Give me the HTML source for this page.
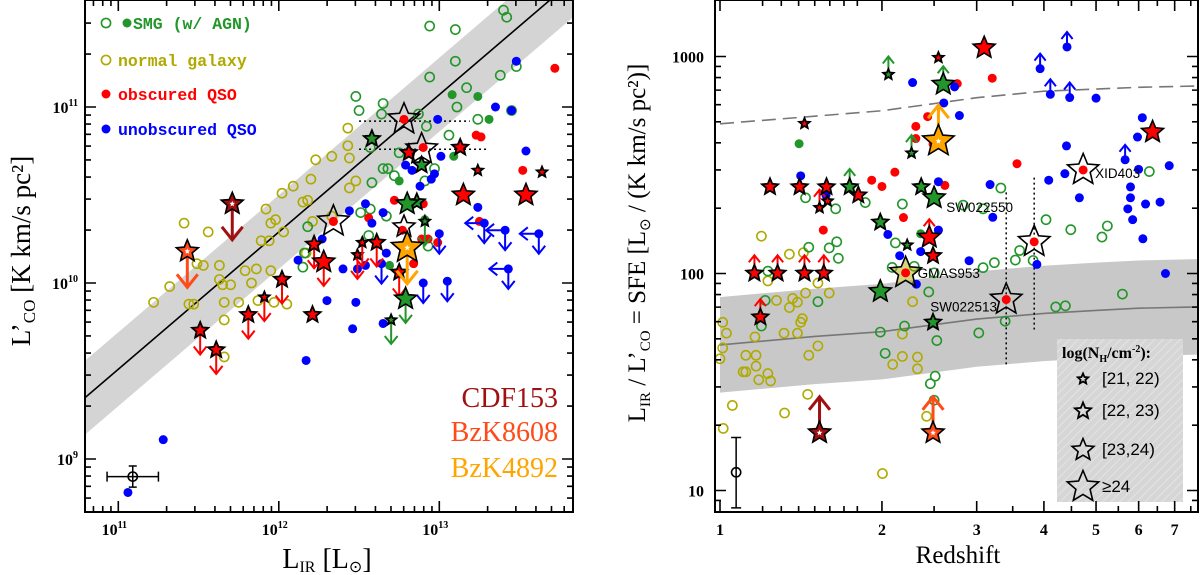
<!DOCTYPE html>
<html><head><meta charset="utf-8"><style>
html,body{margin:0;padding:0;background:#fff;}
svg{display:block;}
text{font-family:"Liberation Serif",serif;}
text.sans{font-family:"Liberation Sans",sans-serif;}
.mono{font-family:"Liberation Mono",monospace;font-weight:bold;}
.tk{font-size:16px;font-weight:bold;}
</style></head><body>
<svg id="fig" width="1200" height="575" viewBox="0 0 1200 575" xmlns="http://www.w3.org/2000/svg">
<defs>
<clipPath id="clipL"><rect x="85" y="0" width="488" height="512"/></clipPath>
<clipPath id="clipR"><rect x="715" y="0" width="483" height="512"/></clipPath>
<pattern id="hatch" width="6" height="6" patternUnits="userSpaceOnUse" patternTransform="rotate(45)"><rect width="6" height="6" fill="#d6d6d6"/><line x1="0" y1="0" x2="0" y2="6" stroke="#e4e4e4" stroke-width="2"/></pattern>
</defs>
<g id="left"></g>
<g id="right"></g>
</svg>
<script>
// ---------------- LEFT PANEL DATA (log10 values) ----------------
const normLogLIR = [11.22,11.32,11.41,11.56,11.44,11.47,11.49,11.53,11.63,11.63,11.65,11.66,11.66,11.66,11.70,11.75,11.79,11.83,11.86,11.92,11.95,11.98,11.94,11.89,11.95,12.02,12.09,12.15,12.18,12.20,12.23,12.33,12.43,12.43,12.44,12.48,12.44,12.03,12.05,11.97,11.87,12.21,12.17,12.33];
const normLogLCO = [9.89,9.98,10.34,10.29,9.88,9.88,10.11,10.10,10.10,10.02,9.99,9.89,9.79,9.58,9.99,9.89,10.07,10.00,10.08,10.42,10.34,10.36,10.24,10.24,10.07,10.51,10.55,10.46,10.47,10.59,10.70,10.72,10.88,10.78,10.71,10.58,10.54,10.29,9.88,9.89,9.90,10.35,10.17,10.38];
const smgLogLIR = [12.48,12.50,12.65,12.64,12.57,12.65,12.68,12.58,12.72,12.75,12.94,12.94,13.10,13.10,13.17,13.11,13.06,13.24,13.38,13.40,13.42,13.48,13.45,12.87,12.92,12.97,12.91,12.93,12.51,12.57,12.56,12.18,12.16,12.15,12.67];
const smgLogLCO = [11.06,10.98,11.02,10.96,10.77,10.65,10.65,10.57,10.61,10.74,11.17,11.46,11.44,11.26,11.11,11.00,10.84,10.93,11.18,11.55,11.51,11.23,10.98,10.96,10.89,10.65,10.58,10.21,10.40,10.42,10.27,10.32,10.17,10.09,10.38];
const smgAgnLogLIR = [13.08,13.24,13.31,13.09,12.75,12.69,12.91];
const smgAgnLogLCO = [11.07,11.06,10.93,10.72,10.58,10.10,10.36];
const obsLogLIR = [13.72,13.52,13.23,13.26,13.25,12.90,12.89,12.93,12.99,12.72,12.56,12.77,12.84,12.34,12.90];
const obsLogLCO = [11.22,10.64,10.84,10.83,10.35,10.45,10.25,10.25,10.23,10.47,10.37,10.30,10.11,10.35,10.77];
const unobsLogLIR = [11.06,11.28,12.17,12.12,12.27,12.30,12.40,12.44,12.48,12.46,12.49,12.54,12.54,12.58,12.65,12.65,12.67,12.79,12.88,12.95,12.97,12.99,13.01,13.35,13.45,13.48,13.54,13.24,12.83];
const unobsLogLCO = [8.81,9.11,9.56,10.13,10.25,9.90,10.08,10.41,9.89,9.74,10.08,10.45,10.10,10.34,10.40,9.77,10.17,10.67,10.55,10.59,10.62,10.93,10.72,11.00,10.98,11.26,10.75,10.43,10.64];
const unobsLimLogLIR = [12.64,12.90,13.00,13.05,13.28,13.41,13.62,13.43];
const unobsLimLogLCO = [10.11,10.00,10.28,10.01,10.34,10.30,10.28,10.08];
const unobsLimIsLIRLimit = [0,0,0,0,1,1,1,1];
const redStarLogLIR = [11.51,11.61,11.81,11.91,12.02,12.22,12.28,12.49,12.52,12.61,12.75,12.21,12.81,13.13,13.15,13.54,13.24,13.64];
const redStarLogLCO = [9.73,9.62,9.82,9.92,10.02,10.22,10.12,10.16,10.23,10.23,10.06,9.82,10.74,10.77,10.50,10.50,10.64,10.63];
const redStarNH = [2,2,2,1,2,2,3,1,1,2,2,2,2,2,3,3,1,1];
const redStarLimit = [1,1,1,1,1,1,1,1,1,1,1,0,0,0,0,0,0,0];
const greenStarLogLIR = [12.58,12.79,12.70,12.86,12.80,12.91,12.89];
const greenStarLogLCO = [10.82,9.91,9.79,10.46,10.45,10.35,10.67];
const greenStarNH = [2,3,1,2,3,1,2];
const greenStarLimit = [0,1,1,0,0,1,0];
const openStarLogLIR = [12.78,12.89,12.34,12.78];
const openStarLogLCO = [10.93,10.76,10.35,10.32];
const openStarNH = [4,4,4,3];
const specialNames = ["CDF153","BzK8608","BzK4892"];
const specialLogLIR = [11.71,11.43,12.80];
const specialLogLCO = [10.45,10.18,10.20];
const specialNH = [3,3,4];
const fitSlope = 0.78, fitIntercept = 0.93, fitScatter = 0.21;

// ---------------- RIGHT PANEL DATA (log10 z, log10 SFE) ----------------
const rNormLogZ = [0.005,0.012,0.005,0.000,0.048,0.067,0.048,0.043,0.067,0.072,0.089,0.094,0.065,0.089,0.105,0.129,0.135,0.144,0.150,0.153,0.129,0.155,0.159,0.119,0.144,0.165,0.182,0.203,0.182,0.077,0.023,0.006,0.120,0.163,0.321,0.339,0.367,0.367,0.358,0.339,0.302,0.384];
const rNormLogSFE = [1.775,1.725,1.657,1.607,1.623,1.623,1.547,1.547,1.573,1.510,1.539,1.505,1.708,1.966,1.876,1.843,1.885,1.868,1.775,1.792,2.089,2.096,1.910,1.725,1.725,1.623,1.666,1.910,1.956,2.172,1.392,1.286,1.357,1.443,1.581,1.618,1.615,1.561,1.870,1.721,1.078,1.342];
const rSmgLogZ = [0.089,0.077,0.084,0.159,0.165,0.182,0.203,0.215,0.220,0.217,0.270,0.339,0.326,0.320,0.361,0.398,0.388,0.403,0.400,0.391,0.398,0.298,0.307,0.343,0.452,0.489,0.522,0.481,0.489,0.510,0.530,0.549,0.557,0.582,0.606,0.652,0.624,0.642,0.710,0.720,0.748,0.798];
const rSmgLogSFE = [2.011,1.758,1.876,2.349,2.121,1.870,2.118,2.298,2.070,2.146,2.327,2.320,2.141,2.028,2.033,2.003,1.915,1.691,1.527,1.492,1.416,1.730,1.632,1.758,2.315,2.298,2.394,1.726,2.027,2.050,1.780,2.062,2.106,2.060,2.248,2.202,1.846,1.851,2.168,2.219,1.905,2.470];
const rSmgAgnLogZ = [0.147,0.373];
const rSmgAgnLogSFE = [2.598,2.183];
const rObsLogZ = [0.192,0.282,0.301,0.325,0.341,0.364,0.364,0.386,0.418,0.441,0.506,0.552,0.396];
const rObsLogSFE = [2.200,2.430,2.401,2.467,2.258,2.678,2.622,2.723,2.406,2.875,2.900,2.506,2.597];
const rUnobsLogZ = [0.150,0.197,0.312,0.334,0.358,0.373,0.365,0.406,0.406,0.416,0.436,0.445,0.463,0.502,0.507,0.641,0.644,0.611,0.668,0.589,0.699,0.763,0.758,0.763,0.767,0.785,0.776,0.778,0.791,0.786,0.818,0.835,0.828];
const rUnobsLogSFE = [2.450,2.361,2.180,2.082,2.880,2.101,1.951,2.423,2.200,2.786,2.860,2.728,2.059,2.410,2.259,2.460,2.588,2.430,2.349,2.042,2.808,2.399,2.298,2.349,2.248,2.718,2.629,2.480,2.320,2.160,2.329,2.497,2.000];
const rUnobsLimLogZ = [0.595,0.614,0.645,0.650,0.753];
const rUnobsLimLogSFE = [2.944,2.826,3.044,2.811,2.524];
const rRedStarLogZ = [0.064,0.107,0.157,0.193,0.075,0.185,0.389,0.200,0.093,0.148,0.198,0.257,0.396,0.406,0.157,0.491,0.804];
const rRedStarLogSFE = [2.001,2.001,2.001,2.001,1.799,2.303,2.167,2.334,2.399,2.399,2.399,2.361,2.082,2.995,2.691,3.040,2.652];
const rRedStarNH = [2,2,2,2,2,1,3,1,2,2,2,2,2,1,1,3,3];
const rRedStarLimit = [1,1,1,1,1,1,1,0,0,0,0,0,0,0,0,0,0];
const rGreenStarLogZ = [0.241,0.298,0.374,0.398,0.298,0.396,0.348,0.313,0.356,0.415];
const rGreenStarLogSFE = [2.399,2.236,2.399,2.349,1.917,1.775,2.131,2.917,2.555,2.872];
const rGreenStarNH = [2,2,2,3,3,2,1,1,1,3];
const rGreenStarLimit = [1,0,0,0,0,0,0,1,1,1];
const rOpenStarLogZ = [0.675,0.584,0.532,0.345];
const rOpenStarLogSFE = [2.477,2.146,1.880,2.003];
const rOpenStarNames = ["XID403","SW022550","SW022513","GMAS953"];
const rSpecialLogZ = [0.185,0.396,0.406];
const rSpecialLogSFE = [1.266,1.266,2.610];
const rSpecialNH = [3,3,4];
const curveZ = [1,1.5,2,3,4,5,6,7.7];
const curveMainLogSFE = [1.671,1.71,1.732,1.79,1.816,1.83,1.84,1.846];
const curveQsoLogSFE = [2.69,2.725,2.75,2.81,2.84,2.85,2.858,2.864];
const curveScatter = 0.22;

// ---------------- drawing ----------------
const NS = "http://www.w3.org/2000/svg";
function mk(tag, a, parent){const e=document.createElementNS(NS,tag);for(const k in a)e.setAttribute(k,a[k]);parent.appendChild(e);return e;}
const L = document.getElementById('left'), R = document.getElementById('right');
const lx = v => 118.3 + 160.5*(v-11);
const ly = v => 107 + 176*(11-v);
const rx = lz => 720 + 538*lz;
const ry = ls => 56.5 + 217*(3-ls);
const C = {green:"#22962a", olive:"#b0aa00", red:"#ff0000", blue:"#0000ff", dred:"#a01010", ored:"#ff4a1a", orange:"#ffa500"};
const starR = [0,5.5,8.5,11.5,16.5];
function starPts(cx,cy,r){let p=[];for(let i=0;i<10;i++){const rr=i%2?r*0.45:r;const a=-Math.PI/2+i*Math.PI/5;p.push((cx+rr*Math.cos(a)).toFixed(1)+","+(cy+rr*Math.sin(a)).toFixed(1));}return p.join(" ");}
function arrow(g,x,y,dx,dy,col,w,h){
  const a = mk('path',{d:`M${x},${y} L${x+dx},${y+dy}`,stroke:col,'stroke-width':w,fill:'none'},g);
  
  
  const len=Math.hypot(dx,dy), ux=dx/len, uy=dy/len, px=-uy, py=ux, tx=x+dx, ty=y+dy;
  const hd = mk('path',{d:`M${tx-ux*h+px*h*0.8},${ty-uy*h+py*h*0.8} L${tx},${ty} L${tx-ux*h-px*h*0.8},${ty-uy*h-py*h*0.8}`,stroke:col,'stroke-width':w,fill:'none'},g);
  
  
}
function dot(g,x,y,col,name){const c=mk('circle',{cx:x,cy:y,r:4.5,fill:col},g);}
function ring(g,x,y,col,name){const c=mk('circle',{cx:x,cy:y,r:4.6,fill:'none',stroke:col,'stroke-width':1.6},g);}
function star(g,x,y,r,col,name){const s=mk('polygon',{points:starPts(x,y,r),fill:col,stroke:'#000','stroke-width':r>10?1.6:1.8,'stroke-linejoin':'miter'},g);}
function frameTicks(g,x0,x1,y0,y1,xt,yt){
  const f = mk('rect',{x:x0,y:y0,width:x1-x0,height:y1-y0,fill:'none',stroke:'#000','stroke-width':2},g);
  
  
  let d='';
  xt.forEach(t=>{const l=t[1]?11:6;d+=`M${t[0]},${y1}v${-l}M${t[0]},${y0}v${l}`;});
  yt.forEach(t=>{const l=t[1]?11:6;d+=`M${x0},${t[0]}h${l}M${x1},${t[0]}h${-l}`;});
  const tk = mk('path',{d:d,stroke:'#000','stroke-width':1.6,fill:'none'},g);
  
  
}
function txt(g,x,y,s,attrs,name){const t=mk('text',Object.assign({x:x,y:y},attrs),g);t.innerHTML=s;return t;}

// ===== LEFT =====
const gl = mk('g',{'clip-path':'url(#clipL)'},L);
const lxMin=10.78,lxMax=13.84;
const band = mk('polygon',{points:[[lxMin,fitSlope*lxMin+fitIntercept+fitScatter],[lxMax,fitSlope*lxMax+fitIntercept+fitScatter],[lxMax,fitSlope*lxMax+fitIntercept-fitScatter],[lxMin,fitSlope*lxMin+fitIntercept-fitScatter]].map(p=>lx(p[0])+","+ly(p[1])).join(" "),fill:'#d4d4d4'},gl);


const fitl = mk('line',{x1:lx(lxMin),y1:ly(fitSlope*lxMin+fitIntercept),x2:lx(lxMax),y2:ly(fitSlope*lxMax+fitIntercept),stroke:'#000','stroke-width':1.6},gl);


const dl = mk('path',{d:`M${lx(12.50)},${ly(10.92)}H${lx(13.19)}M${lx(12.50)},${ly(10.76)}H${lx(13.30)}`,stroke:'#000','stroke-width':1.5,'stroke-dasharray':'2,3',fill:'none'},gl);


normLogLIR.forEach((v,i)=>ring(gl,lx(v),ly(normLogLCO[i]),C.olive,'normal-galaxy-point'));
smgLogLIR.forEach((v,i)=>ring(gl,lx(v),ly(smgLogLCO[i]),C.green,'smg-point'));
smgAgnLogLIR.forEach((v,i)=>dot(gl,lx(v),ly(smgAgnLogLCO[i]),C.green,'smg-agn-point'));
obsLogLIR.forEach((v,i)=>dot(gl,lx(v),ly(obsLogLCO[i]),C.red,'obscured-qso-point'));
unobsLogLIR.forEach((v,i)=>dot(gl,lx(v),ly(unobsLogLCO[i]),C.blue,'unobscured-qso-point'));
unobsLimLogLIR.forEach((v,i)=>{const x=lx(v),y=ly(unobsLimLogLCO[i]);dot(gl,x,y,C.blue,'unobscured-qso-limit');arrow(gl,x,y,0,20,C.blue,2,8);if(unobsLimIsLIRLimit[i])arrow(gl,x,y,-19,0,C.blue,2,8);});
redStarLogLIR.forEach((v,i)=>{const x=lx(v),y=ly(redStarLogLCO[i]);if(redStarLimit[i])arrow(gl,x,y,0,24,C.red,2,8);star(gl,x,y,starR[redStarNH[i]],C.red,'obscured-qso-star');});
greenStarLogLIR.forEach((v,i)=>{const x=lx(v),y=ly(greenStarLogLCO[i]);if(greenStarLimit[i])arrow(gl,x,y,0,24,C.green,2,8);star(gl,x,y,starR[greenStarNH[i]],C.green,'smg-star');});
openStarLogLIR.forEach((v,i)=>{const x=lx(v),y=ly(openStarLogLCO[i]);star(gl,x,y,starR[openStarNH[i]],'none','open-star');});
dot(gl,lx(12.78),ly(10.93),C.red,'obscured-qso-point');dot(gl,lx(12.34),ly(10.35),C.red,'obscured-qso-point');
const spCol=[C.dred,C.ored,C.orange];
specialLogLIR.forEach((v,i)=>{const x=lx(v),y=ly(specialLogLCO[i]);arrow(gl,x,y,0,36,spCol[i],3,13);star(gl,x,y,starR[specialNH[i]],spCol[i],'special-source-star');mk('polygon',{points:starPts(x,y,3),fill:'#fff'},gl);});
const eb = mk('path',{d:`M${lx(10.93)},${ly(8.90)}H${lx(11.25)}M${lx(10.93)},${ly(8.90)-5}v10M${lx(11.25)},${ly(8.90)-5}v10M${lx(11.09)},${ly(8.96)}V${ly(8.84)}M${lx(11.09)-4},${ly(8.96)}h8M${lx(11.09)-4},${ly(8.84)}h8`,stroke:'#000','stroke-width':1.5,fill:'none'},L);


ring(L,lx(11.09),ly(8.90),'#000','error-bar-center');
let xtL=[],ytL=[];
for(let d=10;d<=13;d++)for(let m=1;m<=9;m++){const v=d+Math.log10(m);if(v>=lxMin&&v<=13.83)xtL.push([lx(v),m===1]);}
for(let d=8;d<=11;d++)for(let m=1;m<=9;m++){const v=d+Math.log10(m);if(v>=8.71&&v<=11.6)ytL.push([ly(v),m===1]);}
frameTicks(L,85,573,0,512,xtL,ytL);
[11,12,13].forEach(e=>txt(L,lx(e)-4,535,`10<tspan dy="-7" font-size="10">${e}</tspan>`,{class:'tk','text-anchor':'middle'},'x-tick-label'));
[9,10,11].forEach(e=>txt(L,78,ly(e)+6,`10<tspan dy="-7" font-size="10">${e}</tspan>`,{class:'tk','text-anchor':'end'},'y-tick-label'));
txt(L,327,568,`L<tspan font-size="16" dy="4">IR</tspan><tspan dy="-4"> [L</tspan><tspan font-size="16" dy="4">⊙</tspan><tspan dy="-4">]</tspan>`,{'font-size':28,'text-anchor':'middle'},'x-axis-title');
txt(L,0,0,`L’<tspan font-size="17" dy="5">CO</tspan><tspan dy="-5"> [K km/s pc²]</tspan>`,{'font-size':27,'text-anchor':'middle',transform:'translate(30,251) rotate(-90)'},'y-axis-title');
ring(L,106,23,C.green,'legend-smg-marker');dot(L,127,23,C.green,'legend-smg-agn-marker');
txt(L,133,29,'SMG (w/ AGN)',{class:'mono','font-size':16.5,fill:C.green},'legend-entry-smg');
ring(L,106,60,C.olive,'legend-normal-marker');
txt(L,118,66,'normal galaxy',{class:'mono','font-size':16.5,fill:C.olive},'legend-entry-normal-galaxy');
dot(L,106,94,C.red,'legend-obscured-marker');
txt(L,118,100,'obscured QSO',{class:'mono','font-size':16.5,fill:C.red},'legend-entry-obscured-qso');
dot(L,106,129,C.blue,'legend-unobscured-marker');
txt(L,118,135,'unobscured QSO',{class:'mono','font-size':16.5,fill:C.blue},'legend-entry-unobscured-qso');
const spY=[407,441,477];
specialNames.forEach((n,i)=>txt(L,558,spY[i],n,{'font-size':28,'text-anchor':'end',fill:spCol[i]},'special-source-label'));

// ===== RIGHT =====
const gr = mk('g',{'clip-path':'url(#clipR)'},R);
const up = curveZ.map((z,i)=>rx(Math.log10(z))+","+ry(curveMainLogSFE[i]+curveScatter));
const lo = curveZ.map((z,i)=>rx(Math.log10(z))+","+ry(curveMainLogSFE[i]-curveScatter)).reverse();
const rb = mk('polygon',{points:up.concat(lo).join(" "),fill:'#c8c8c8'},gr);


const ml = mk('polyline',{points:curveZ.map((z,i)=>rx(Math.log10(z))+","+ry(curveMainLogSFE[i])).join(" "),fill:'none',stroke:'#777','stroke-width':1.6},gr);


const ql = mk('polyline',{points:curveZ.map((z,i)=>rx(Math.log10(z))+","+ry(curveQsoLogSFE[i])).join(" "),fill:'none',stroke:'#777','stroke-width':1.6,'stroke-dasharray':'14,7'},gr);


const rdl = mk('path',{d:`M${rx(0.532)},${ry(2.374)}V${ry(1.581)}M${rx(0.584)},${ry(2.442)}V${ry(1.742)}`,stroke:'#000','stroke-width':1.5,'stroke-dasharray':'2,3',fill:'none'},gr);


const lb = mk('rect',{x:1057,y:339,width:126,height:163,fill:'url(#hatch)'},R);


rNormLogZ.forEach((v,i)=>ring(gr,rx(v),ry(rNormLogSFE[i]),C.olive,'normal-galaxy-point'));
rSmgLogZ.forEach((v,i)=>ring(gr,rx(v),ry(rSmgLogSFE[i]),C.green,'smg-point'));
rSmgAgnLogZ.forEach((v,i)=>dot(gr,rx(v),ry(rSmgAgnLogSFE[i]),C.green,'smg-agn-point'));
rObsLogZ.forEach((v,i)=>dot(gr,rx(v),ry(rObsLogSFE[i]),C.red,'obscured-qso-point'));
rUnobsLogZ.forEach((v,i)=>dot(gr,rx(v),ry(rUnobsLogSFE[i]),C.blue,'unobscured-qso-point'));
rUnobsLimLogZ.forEach((v,i)=>{const x=rx(v),y=ry(rUnobsLimLogSFE[i]);dot(gr,x,y,C.blue,'unobscured-qso-limit');arrow(gr,x,y,0,-15,C.blue,2,7);});
rRedStarLogZ.forEach((v,i)=>{const x=rx(v),y=ry(rRedStarLogSFE[i]);if(rRedStarLimit[i])arrow(gr,x,y,0,-18,C.red,2,7);star(gr,x,y,starR[rRedStarNH[i]],C.red,'obscured-qso-star');});
rGreenStarLogZ.forEach((v,i)=>{const x=rx(v),y=ry(rGreenStarLogSFE[i]);if(rGreenStarLimit[i])arrow(gr,x,y,0,-18,C.green,2,7);star(gr,x,y,starR[rGreenStarNH[i]],C.green,'smg-star');});
rOpenStarLogZ.forEach((v,i)=>{const x=rx(v),y=ry(rOpenStarLogSFE[i]);star(gr,x,y,starR[4],i===3?'rgba(176,170,0,0.5)':'none','open-star');dot(gr,x,y,C.red,'obscured-qso-point');});
const rLab=[[12,8],[-88,-30],[-76,12],[12,5]];
rOpenStarNames.forEach((n,i)=>txt(R,rx(rOpenStarLogZ[i])+rLab[i][0],ry(rOpenStarLogSFE[i])+rLab[i][1],n,{class:'sans','font-size':13.5},'source-label'));
rSpecialLogZ.forEach((v,i)=>{const x=rx(v),y=ry(rSpecialLogSFE[i]);arrow(gr,x,y,0,-36,spCol[i],3,13);star(gr,x,y,starR[rSpecialNH[i]],spCol[i],'special-source-star');mk('polygon',{points:starPts(x,y,3),fill:'#fff'},gr);});
const reb = mk('path',{d:`M${rx(0.030)},${ry(1.244)}V${ry(0.920)}M${rx(0.030)-5},${ry(1.244)}h10M${rx(0.030)-5},${ry(0.920)}h10`,stroke:'#000','stroke-width':1.5,fill:'none'},R);


ring(R,rx(0.030),ry(1.084),'#000','error-bar-center');
txt(R,1062,358,`log(N<tspan font-size="10" dy="4">H</tspan><tspan dy="-4">/cm</tspan><tspan font-size="10" dy="-6">-2</tspan><tspan dy="6">):</tspan>`,{'font-size':16,'font-weight':'bold'},'nh-legend-title');
const legNH=[1,2,3,4], legLab=['[21, 22)','[22, 23)','[23,24)','≥24'], legY=[384,416,455,492];
legNH.forEach((c,i)=>{star(R,1083,legY[i]-5,starR[c],'none','nh-legend-star');txt(R,1102,legY[i],legLab[i],{class:'sans','font-size':17},'nh-legend-label');});
let xtR=[],ytR=[];
for(let z=1;z<=7;z++)xtR.push([rx(Math.log10(z)),true]);
for(let z=1.2;z<=1.9;z+=0.1)xtR.push([rx(Math.log10(z)),false]);
[2.5,3.5,4.5,5.5,6.5,7.5].forEach(z=>xtR.push([rx(Math.log10(z)),false]));
for(let d=0;d<=3;d++)for(let m=1;m<=9;m++){const v=d+Math.log10(m);if(v>=0.91&&v<=3.25)ytR.push([ry(v),m===1]);}
frameTicks(R,715,1198,0,512,xtR,ytR);
for(let z=1;z<=7;z++)txt(R,rx(Math.log10(z)),535,String(z),{class:'tk','text-anchor':'middle'},'x-tick-label');
[[3,'1000'],[2,'100'],[1,'10']].forEach(t=>txt(R,704,ry(t[0])+6,t[1],{class:'tk','font-size':17,'text-anchor':'end'},'y-tick-label'));
txt(R,958,563,'Redshift',{'font-size':25,'text-anchor':'middle'},'x-axis-title');
txt(R,0,0,`L<tspan font-size="15" dy="5">IR</tspan><tspan dy="-5"> / L’</tspan><tspan font-size="15" dy="5">CO</tspan><tspan dy="-5"> = SFE [L</tspan><tspan font-size="15" dy="5">⊙</tspan><tspan dy="-5"> / (K km/s pc²)]</tspan>`,{'font-size':25,'text-anchor':'middle',transform:'translate(645,243) rotate(-90)'},'y-axis-title');
</script>
</body></html>
